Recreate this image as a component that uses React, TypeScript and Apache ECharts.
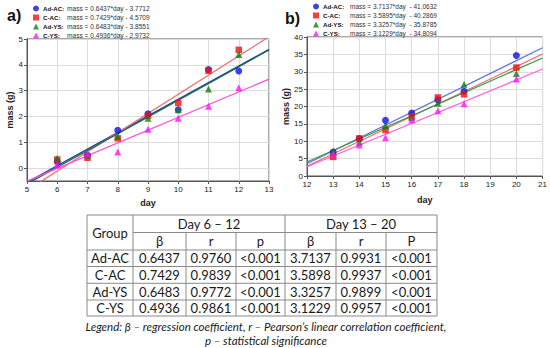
import React, { useEffect, useRef } from "react";
import * as echarts from "echarts";

const groups = ["Ad-AC", "C-AC", "Ad-YS", "C-YS"];

// Panel a) days 6–12
const daysA = [6, 7, 8, 9, 10, 11, 12];
const adAC_A = [0.25, 0.5, 1.46, 2.1, 2.26, 3.82, 3.76];
const cAC_A = [0.33, 0.4, 1.15, 2.03, 2.52, 3.77, 4.58];
const adYS_A = [0.38, 0.5, 1.22, 1.93, 2.26, 3.06, 4.4];
const cYS_A = [0.13, 0.55, 0.62, 1.5, 1.93, 2.4, 3.11];
const slopeA = [0.6437, 0.7429, 0.6483, 0.4936];
const interceptA = [-3.7712, -4.5709, -3.8551, -2.9732];
const eqA = [
  "mass = 0.6437*day - 3.7712",
  "mass = 0.7429*day - 4.5709",
  "mass = 0.6483*day - 3.8551",
  "mass = 0.4936*day - 2.9732",
];

// Panel b) days 13–20
const daysB = [13, 14, 15, 16, 17, 18, 20];
const adAC_B = [6.9, 10.8, 16.0, 18.1, 21.9, 24.4, 34.7];
const cAC_B = [5.5, 10.8, 13.2, 17.1, 22.6, 23.5, 31.2];
const adYS_B = [7.2, 9.7, 14.5, 16.8, 20.9, 26.4, 29.5];
const cYS_B = [6.3, 8.9, 11.0, 16.1, 18.8, 20.8, 27.9];
const slopeB = [3.7137, 3.5895, 3.3257, 3.1229];
const interceptB = [-41.0632, -40.2869, -35.8785, -34.8094];
const eqB = [
  "mass = 3.7137*day  - 41.0632",
  "mass = 3.5895*day  - 40.2869",
  "mass = 3.3257*day  - 35.8785",
  "mass = 3.1229*day  - 34.8094",
];

const yTicksA = [0, 1, 2, 3, 4, 5];

// Table
const betaA = ["0.6437", "0.7429", "0.6483", "0.4936"];
const rA = ["0.9760", "0.9839", "0.9772", "0.9861"];
const pA = ["<0.001", "<0.001", "<0.001", "<0.001"];
const betaB = ["3.7137", "3.5898", "3.3257", "3.1229"];
const rB = ["0.9931", "0.9937", "0.9899", "0.9957"];
const pB = ["<0.001", "<0.001", "<0.001", "<0.001"];
const periodHeaders = ["Day 6 \u2013 12", "Day 13 \u2013 20"];
const subHeaders = ["\u03b2", "r", "p", "\u03b2", "r", "P"];
const legendLine1 = "Legend: \u03b2 \u2013 regression coefficient, r \u2013 Pearson\u2019s linear correlation coefficient,";
const legendLine2 = "p \u2013 statistical significance";

const markerColors = ["#1010e8", "#f01010", "#108010", "#ff10ff"];
const symbols = ["circle", "rect", "triangle", "triangle"];
const lineColorsA = ["#24428c", "#f07070", "#1e6a62", "#ff50e0"];
const lineColorsB = ["#5a72e0", "#f06a6a", "#2e9a4a", "#ff5ae0"];

const FONT = "Liberation Sans";
const TFONT = "Lato";

export default function App() {
  const ref = useRef<HTMLDivElement>(null);
  useEffect(() => {
    if (!ref.current) return;
    const chart = echarts.init(ref.current, undefined, { renderer: "svg" });
    const dataA = [adAC_A, cAC_A, adYS_A, cYS_A];
    const dataB = [adAC_B, cAC_B, adYS_B, cYS_B];

    const series: any[] = [];
    groups.forEach((g, i) => {
      series.push({
        type: "line",
        name: "la:" + g,
        xAxisIndex: 0,
        yAxisIndex: 0,
        data: [5, 13].map((d) => [d, slopeA[i] * d + interceptA[i]]),
        showSymbol: false,
        symbol: "none",
        clip: true,
        lineStyle: { color: lineColorsA[i], width: 1.3 },
        z: 1,
        silent: true,
      });
      series.push({
        type: "line",
        name: "lb:" + g,
        xAxisIndex: 1,
        yAxisIndex: 1,
        data: [12, 21].map((d) => [d, slopeB[i] * d + interceptB[i]]),
        showSymbol: false,
        symbol: "none",
        clip: true,
        lineStyle: { color: lineColorsB[i], width: 1.2 },
        z: 1,
        silent: true,
      });
    });
    groups.forEach((g, i) => {
      series.push({
        type: "scatter",
        name: "a:" + g,
        xAxisIndex: 0,
        yAxisIndex: 0,
        data: daysA.map((d, k) => [d, dataA[i][k]]),
        symbol: symbols[i],
        symbolSize: i === 1 ? 6.5 : 7,
        itemStyle: { color: markerColors[i] },
        z: 3,
      });
      series.push({
        type: "scatter",
        name: "b:" + g,
        xAxisIndex: 1,
        yAxisIndex: 1,
        data: daysB.map((d, k) => [d, dataB[i][k]]),
        symbol: symbols[i],
        symbolSize: i === 1 ? 6.5 : 7,
        itemStyle: { color: markerColors[i] },
        z: 3,
      });
    });

    const legendRich = {
      n: { fontFamily: FONT, fontSize: 6.2, fontWeight: "bold", color: "#111", width: 24 },
      e: { fontFamily: FONT, fontSize: 6.6, color: "#333" },
    };
    const legendRichB = {
      n: { fontFamily: FONT, fontSize: 6.2, fontWeight: "bold", color: "#111", width: 27 },
      e: { fontFamily: FONT, fontSize: 6.5, color: "#333" },
    };
    const mkLegend = (prefix: string, eqs: string[], left: number, top: number, rich: any) => ({
      orient: "vertical",
      left,
      top,
      itemWidth: 6,
      itemHeight: 6,
      itemGap: 2,
      selectedMode: false,
      padding: 0,
      data: groups.map((g, i) => ({ name: prefix + g, icon: symbols[i] })),
      formatter: (name: string) => {
        const g = name.slice(prefix.length);
        const i = groups.indexOf(g);
        return "{n|" + g + ":}{e|" + eqs[i] + "}";
      },
      textStyle: { rich, padding: [0, 0, 0, -1] },
    });

    const axisCommon = {
      axisLine: { show: true, onZero: false, lineStyle: { color: "#555", width: 1 } },
      axisTick: { show: true, length: 3, lineStyle: { color: "#555" } },
      splitLine: { show: true, lineStyle: { color: "#dcdcdc", width: 1 } },
      axisLabel: { fontFamily: FONT, fontSize: 8, color: "#222", margin: 4 },
      nameTextStyle: { fontFamily: FONT, fontSize: 9, fontWeight: "bold", color: "#222" },
    };

    // table graphics
    const colX = [87, 133, 186, 236, 285, 336, 386, 437];
    const rowY = [215, 232.5, 250, 266.5, 283.3, 300, 316];
    const graphics: any[] = [];
    const lc = "#8a8a8a";
    const hl = (x1: number, x2: number, y: number) =>
      graphics.push({ type: "line", shape: { x1, y1: y, x2, y2: y }, style: { stroke: lc, lineWidth: 1 } });
    const vl = (x: number, y1: number, y2: number) =>
      graphics.push({ type: "line", shape: { x1: x, y1, x2: x, y2 }, style: { stroke: lc, lineWidth: 1 } });
    hl(colX[0], colX[7], rowY[0]);
    hl(colX[1], colX[7], rowY[1]);
    for (let r = 2; r < rowY.length; r++) hl(colX[0], colX[7], rowY[r]);
    vl(colX[0], rowY[0], rowY[6]);
    vl(colX[1], rowY[0], rowY[6]);
    vl(colX[4], rowY[0], rowY[6]);
    vl(colX[7], rowY[0], rowY[6]);
    [2, 3, 5, 6].forEach((c) => vl(colX[c], rowY[1], rowY[6]));
    const cellText = (text: string, cx: number, cy: number) =>
      graphics.push({
        type: "text",
        x: cx,
        y: cy,
        style: { text, fontFamily: TFONT, fontSize: 13, fill: "#1a1a1a", align: "center", verticalAlign: "middle" },
      });
    cellText("Group", (colX[0] + colX[1]) / 2, (rowY[0] + rowY[2]) / 2);
    cellText(periodHeaders[0], (colX[1] + colX[4]) / 2, (rowY[0] + rowY[1]) / 2);
    cellText(periodHeaders[1], (colX[4] + colX[7]) / 2, (rowY[0] + rowY[1]) / 2);
    subHeaders.forEach((h, c) => cellText(h, (colX[c + 1] + colX[c + 2]) / 2, (rowY[1] + rowY[2]) / 2));
    const cols = [betaA, rA, pA, betaB, rB, pB];
    groups.forEach((g, r) => {
      const cy = (rowY[r + 2] + rowY[r + 3]) / 2;
      cellText(g, (colX[0] + colX[1]) / 2, cy);
      cols.forEach((col, c) => cellText(col[r], (colX[c + 1] + colX[c + 2]) / 2, cy));
    });
    const legStyle = { fontFamily: TFONT, fontSize: 11.5, lineHeight: 12, fontStyle: "italic", fill: "#1a1a1a", align: "center", verticalAlign: "middle" };
    graphics.push({ type: "text", x: 266, y: 326, style: { ...legStyle, text: legendLine1 } });
    graphics.push({ type: "text", x: 266, y: 340, style: { ...legStyle, text: legendLine2 } });

    chart.setOption({
      animation: false,
      backgroundColor: "#ffffff",
      title: [
        { text: "a)", left: 2, top: 2, textStyle: { fontFamily: FONT, fontSize: 16, fontWeight: "bold", color: "#111" } },
        { text: "b)", left: 280, top: 5, textStyle: { fontFamily: FONT, fontSize: 16, fontWeight: "bold", color: "#111" } },
      ],
      legend: [mkLegend("a:", eqA, 33, 5, legendRich), mkLegend("b:", eqB, 313, 3, legendRichB)],
      grid: [
        { left: 27, right: 281, top: 39, bottom: 167, show: true, borderColor: "#555", borderWidth: 1, containLabel: false },
        { left: 307, right: 7, top: 37, bottom: 172, show: true, borderColor: "#555", borderWidth: 1, containLabel: false },
      ],
      xAxis: [
        { ...axisCommon, type: "value", gridIndex: 0, min: 5, max: 13, interval: 1, name: "day", nameLocation: "middle", nameGap: 17 },
        { ...axisCommon, type: "value", gridIndex: 1, min: 12, max: 21, interval: 1, name: "day", nameLocation: "middle", nameGap: 19 },
      ],
      yAxis: [
        {
          ...axisCommon,
          type: "value",
          gridIndex: 0,
          min: -0.5,
          max: 5,
          axisLabel: { ...axisCommon.axisLabel, customValues: yTicksA },
          axisTick: { ...axisCommon.axisTick, customValues: yTicksA },
          name: "mass (g)",
          nameLocation: "middle",
          nameGap: 13,
        },
        { ...axisCommon, type: "value", gridIndex: 1, min: 0, max: 40, interval: 5, name: "mass (g)", nameLocation: "middle", nameGap: 16 },
      ],
      series,
      graphic: graphics,
    });
    return () => chart.dispose();
  }, []);
  return <div ref={ref} style={{ position: "absolute", left: 0, top: 0, width: 550, height: 348 }} />;
}
